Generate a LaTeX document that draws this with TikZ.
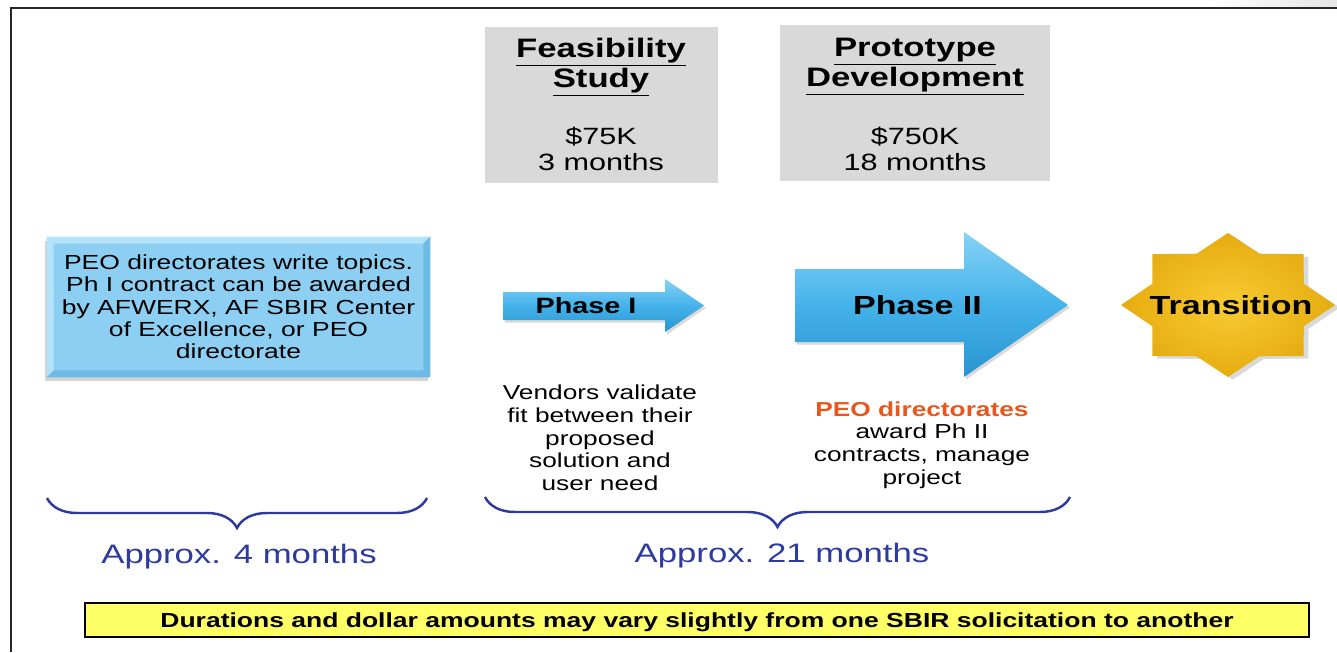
\documentclass[tikz,border=0pt]{standalone}
\usepackage{fontspec}
\setmainfont{Liberation Sans}[FakeStretch=1.3]
\usetikzlibrary{positioning, calc, shadows, decorations.pathreplacing}

\definecolor{cardgray}{HTML}{D9D9D9}
\definecolor{topicblue}{HTML}{8DCFF2}
\definecolor{topiclight}{HTML}{B4E2F8}
\definecolor{topicdark}{HTML}{6CBBE6}
\definecolor{arrowtop}{HTML}{86D2F6}
\definecolor{arrowmid}{HTML}{45B3EA}
\definecolor{arrowlow}{HTML}{2894D0}
\definecolor{starlight}{HTML}{F8CC32}
\definecolor{stardark}{HTML}{E6AC10}
\definecolor{bracenavy}{HTML}{2D3A9E}
\definecolor{peoorange}{HTML}{E8561E}
\definecolor{noteyellow}{HTML}{FFFF66}

\begin{document}
\begin{tikzpicture}[
    x=0.02cm, y=-0.02cm,
    card/.style={fill=cardgray, inner sep=0pt},
    cardhead/.style={font=\fontsize{15.2}{17}\selectfont\bfseries, align=center},
    cardcost/.style={font=\fontsize{13.4}{14.7}\selectfont, align=center},
    topic/.style={fill=topicblue, inner sep=0pt, align=center, font=\fontsize{11.6}{12.7}\selectfont,
      drop shadow={opacity=0.35, shadow xshift=-1pt, shadow yshift=-2pt}},
    phasearrow/.style={top color=arrowtop, bottom color=arrowlow, middle color=arrowmid,
      drop shadow={opacity=0.3, shadow xshift=1pt, shadow yshift=-1.5pt}},
    phaselabel/.style={font=\bfseries},
    remark/.style={align=center, font=\fontsize{11.5}{12.9}\selectfont},
    span/.style={draw=bracenavy, line width=1.4pt, decorate, decoration={brace, mirror, amplitude=0.6cm}},
    spantext/.style={text=bracenavy, font=\fontsize{15.2}{18}\selectfont},
    notebox/.style={draw=black, line width=1.3pt, fill=noteyellow, inner sep=0pt, text depth=0pt,
      minimum width=24.48cm, minimum height=0.68cm, font=\fontsize{11.6}{13}\selectfont\bfseries},
  ]
  \useasboundingbox (0,0) rectangle (1337,652);

  % frame
  \shade[left color=white, right color=black!10] (1210,0) rectangle (1337,7);
  \draw[line width=1.6pt, black!85] (11,652) -- (11,8) -- (1337,8);

  % cost cards
  \node[card, minimum width=4.66cm, minimum height=3.12cm] (feascard) at (601.5,105) {};
  \node[card, minimum width=5.4cm, minimum height=3.12cm] (protocard) at (915,103) {};
  \node[cardhead] (feashead) at (601,67) {\underline{Feasibility}\\\underline{Study}};
  \node[cardcost] (feascost) at (601,149) {\$75K\\3 months};
  \node[cardhead] (protohead) at (915,67) {\underline{Prototype}\\\underline{Development}};
  \node[cardcost] (protocost) at (915,148.5) {\$750K\\18 months};

  % topic box with bevel
  \node[topic, minimum width=7.66cm, minimum height=2.8cm] (topics) at (238.5,307)
    {PEO directorates write topics.\\Ph I contract can be awarded\\by AFWERX, AF SBIR Center\\of Excellence, or PEO\\directorate};
  \fill[topiclight] (topics.north west) -- (topics.north east) -- ++(-7,7)
    -- ($(topics.north west)+(7,7)$) -- ($(topics.south west)+(7,-7)$) -- (topics.south west) -- cycle;
  \fill[topicdark] (topics.south east) -- (topics.north east) -- ++(-7,7)
    -- ($(topics.south east)+(-7,-7)$) -- ($(topics.south west)+(7,-7)$) -- (topics.south west) -- cycle;

  % phase arrows
  \path[phasearrow] (503,292) -- (665,292) -- (665,279) -- (704,305.5) -- (665,332) -- (665,320) -- (503,320) -- cycle;
  \node[phaselabel, font=\fontsize{12.6}{14}\selectfont\bfseries] (phaseone) at (586,306) {Phase I};
  \path[phasearrow] (795,269) -- (964,269) -- (964,232) -- (1068,305) -- (964,377) -- (964,342) -- (795,342) -- cycle;
  \node[phaselabel, font=\fontsize{14.9}{17}\selectfont\bfseries] (phasetwo) at (917.5,305) {Phase II};

  % transition star
  \shade[inner color=starlight, outer color=stardark, drop shadow={opacity=0.3, shadow yshift=-1.5pt}]
    (1335,305) \foreach \a in {22.5,67.5,...,337.5} {
      -- ({1228+82*cos(\a)},{305+55.5*sin(\a)}) -- ({1228+107*cos(\a+22.5)},{305+72*sin(\a+22.5)})
    } -- cycle;
  \node[phaselabel, font=\fontsize{14.9}{17}\selectfont\bfseries] (transition) at (1231,305) {Transition};

  % remarks under the arrows
  \node[remark] (vendors) at (600,438) {Vendors validate\\fit between their\\proposed\\solution and\\user need};
  \node[remark] (peoaward) at (922,445) {\textcolor{peoorange}{\bfseries PEO directorates}\\award Ph II\\contracts, manage\\project};

  % durations
  \coordinate (spanA1) at (47,498);
  \coordinate (spanA2) at (427,498);
  \coordinate (spanB1) at (485,497);
  \coordinate (spanB2) at (1070,497);
  \draw[span] (spanA1) -- (spanA2);
  \draw[span] (spanB1) -- (spanB2);
  \node[spantext] (monthsA) at (239,557) {Approx. 4 months};
  \node[spantext] (monthsB) at (782,556) {Approx. 21 months};

  \node[notebox] (caveat) at (697,620) {Durations and dollar amounts may vary slightly from one SBIR solicitation to another};
\end{tikzpicture}
\end{document}
